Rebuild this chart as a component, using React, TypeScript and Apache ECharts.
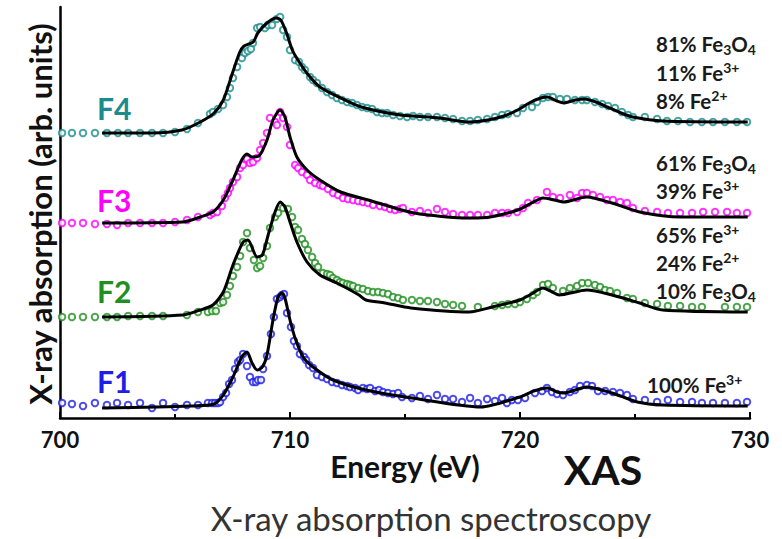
import React, { useEffect, useRef } from "react";
import * as echarts from "echarts";

// Energy (eV) ticks
const xTicks = [700, 710, 720, 730];

// ---- F4 (teal) ----
const f4Obs: number[][] = [
  [700.09, 285], [700.52, 285], [701.0, 285], [701.52, 285], [702.04, 285], [702.52, 285], [702.96, 285],
  [703.48, 285], [704.0, 285], [704.48, 285], [705.0, 286], [705.52, 289], [706.0, 295], [706.52, 304],
  [706.65, 306], [706.87, 309], [707.09, 313], [707.26, 321], [707.39, 330], [707.52, 340], [707.7, 351],
  [707.91, 360], [708.04, 365], [708.17, 367], [708.3, 369], [708.39, 375], [708.57, 390], [708.7, 391],
  [708.91, 390], [709.04, 393], [709.22, 393], [709.43, 399], [709.57, 401], [709.7, 388], [709.87, 381],
  [710.0, 368], [710.22, 358], [710.39, 356], [710.52, 351], [710.65, 348], [710.87, 341], [711.0, 338],
  [711.17, 335], [711.39, 330], [711.61, 326], [711.83, 323], [712.04, 320], [712.26, 318], [712.48, 316],
  [712.7, 315], [712.91, 313], [713.13, 311], [713.35, 310], [713.57, 309], [713.78, 306], [714.0, 305],
  [714.22, 305], [714.48, 303], [714.78, 302], [715.09, 301], [715.35, 302], [715.65, 301], [716.0, 301],
  [716.39, 301], [716.74, 300], [717.09, 299], [717.48, 297], [717.83, 297], [718.17, 298], [718.57, 299],
  [718.91, 301], [719.22, 303], [719.48, 304], [719.87, 305], [720.13, 310], [720.52, 311], [720.74, 316],
  [721.0, 320], [721.22, 321], [721.43, 321], [721.74, 319], [722.04, 319], [722.39, 318], [722.7, 318],
  [722.91, 318], [723.26, 316], [723.57, 314], [723.83, 312], [724.13, 310], [724.43, 306], [724.7, 303],
  [724.91, 301], [725.43, 301], [725.96, 299], [726.39, 297], [726.87, 297], [727.39, 296], [727.91, 296],
  [728.39, 296], [728.91, 296], [729.43, 296], [729.87, 296],
];
const f4Fit: number[][] = [
  [701.83, 285], [704.0, 285], [705.3, 288], [706.1, 296], [706.7, 305], [707.1, 318], [707.5, 345],
  [707.8, 365], [708.0, 372], [708.4, 376], [708.6, 385], [709.0, 395], [709.4, 400], [709.6, 398],
  [709.85, 385], [710.1, 368], [710.4, 356], [710.8, 343], [711.3, 331], [712.2, 320], [713.1, 311],
  [714.8, 303], [716.5, 300], [717.8, 296], [718.6, 298], [719.3, 302], [719.9, 308], [720.4, 315],
  [720.9, 320], [721.2, 321], [721.6, 317], [721.9, 315], [722.4, 318], [722.8, 319], [723.3, 316],
  [723.8, 311], [724.4, 305], [724.9, 301], [726.2, 297], [729.9, 296],
];

// ---- F3 (magenta) ----
const f3Obs: number[][] = [
  [700.09, 195], [700.52, 195], [701.0, 195], [701.52, 194], [702.04, 194], [702.48, 193], [702.96, 195],
  [703.48, 195], [704.0, 195], [704.48, 195], [705.0, 196], [705.52, 198], [706.0, 201], [706.52, 203],
  [706.65, 205], [706.83, 206], [707.04, 212], [707.17, 220], [707.3, 225], [707.39, 230], [707.52, 236],
  [707.7, 241], [707.83, 250], [707.96, 253], [708.13, 259], [708.26, 255], [708.39, 256], [708.57, 260],
  [708.7, 268], [708.83, 275], [709.0, 285], [709.13, 300], [709.35, 296], [709.43, 293], [709.57, 306],
  [709.7, 300], [709.87, 291], [710.0, 273], [710.22, 253], [710.35, 250], [710.52, 246], [710.74, 243],
  [710.87, 238], [711.09, 235], [711.3, 233], [711.43, 232], [711.65, 229], [711.87, 225], [712.09, 223],
  [712.3, 220], [712.52, 219], [712.74, 218], [712.96, 217], [713.17, 216], [713.39, 215], [713.61, 213],
  [713.91, 212], [714.13, 211], [714.35, 209], [714.57, 208], [714.78, 209], [714.91, 210], [715.3, 206],
  [715.65, 207], [716.0, 205], [716.39, 209], [716.74, 206], [717.09, 204], [717.48, 203], [717.83, 203],
  [718.17, 203], [718.57, 203], [718.91, 205], [719.22, 205], [719.48, 205], [719.87, 206], [720.13, 210],
  [720.35, 215], [720.74, 218], [721.17, 226], [721.43, 221], [721.74, 220], [722.17, 223], [722.48, 220],
  [722.7, 225], [722.91, 225], [723.17, 223], [723.48, 221], [723.78, 218], [724.04, 218], [724.35, 216],
  [724.65, 215], [724.91, 210], [725.43, 207], [725.96, 206], [726.43, 205], [726.96, 205], [727.48, 205],
  [727.96, 206], [728.48, 206], [729.0, 206], [729.43, 205], [729.87, 205],
];
const f3Fit: number[][] = [
  [701.83, 195], [705.35, 196], [706.1, 201], [706.65, 206], [707.1, 218], [707.52, 238], [707.9, 258],
  [708.13, 264], [708.35, 261], [708.65, 262], [709.0, 278], [709.26, 298], [709.57, 308], [709.78, 301],
  [710.0, 281], [710.3, 261], [710.74, 248], [711.3, 238], [712.2, 226], [713.4, 218], [715.4, 205],
  [717.8, 200], [718.7, 201], [719.9, 208], [720.5, 215], [721.0, 220], [721.5, 218], [721.9, 216],
  [722.9, 221], [724.0, 215], [725.2, 206], [727.0, 201], [729.9, 201],
];

// ---- F2 (green) ----
const f2Obs: number[][] = [
  [700.09, 101], [700.52, 101], [701.0, 101], [701.52, 101], [702.04, 101], [702.48, 101], [702.96, 102],
  [703.48, 102], [704.0, 102], [704.48, 102], [705.52, 103], [706.0, 106], [706.43, 106], [706.61, 107],
  [706.78, 107], [706.96, 115], [707.09, 116], [707.26, 123], [707.39, 132], [707.52, 142], [707.7, 151],
  [707.83, 162], [707.96, 176], [708.13, 185], [708.26, 170], [708.43, 158], [708.57, 150], [708.7, 152],
  [708.83, 160], [709.0, 172], [709.13, 190], [709.35, 201], [709.48, 205], [709.7, 210], [709.91, 209],
  [710.09, 201], [710.22, 191], [710.35, 188], [710.52, 179], [710.65, 174], [710.78, 168], [710.96, 161],
  [711.09, 155], [711.22, 151], [711.43, 145], [711.61, 144], [711.74, 143], [711.87, 140], [712.04, 138],
  [712.17, 136], [712.3, 135], [712.48, 134], [712.61, 133], [712.74, 132], [712.96, 130], [713.17, 129],
  [713.39, 127], [713.61, 126], [713.83, 126], [714.04, 125], [714.26, 124], [714.48, 121], [714.7, 120],
  [714.91, 118], [715.3, 118], [715.65, 117], [716.0, 117], [716.39, 116], [716.74, 114], [717.09, 113],
  [717.48, 112], [718.17, 111], [718.91, 112], [719.22, 113], [719.48, 114], [719.78, 114], [720.0, 116],
  [720.3, 119], [720.57, 123], [720.74, 126], [721.0, 133], [721.22, 134], [721.43, 130], [721.87, 127],
  [722.17, 130], [722.48, 132], [722.7, 135], [722.96, 135], [723.26, 133], [723.48, 131], [723.7, 128],
  [723.91, 127], [724.22, 125], [724.65, 120], [724.91, 119], [725.43, 115], [725.96, 114], [726.43, 112],
  [726.96, 112], [727.48, 111], [727.91, 111], [728.91, 111], [729.43, 111], [729.87, 111],
];
const f2Fit: number[][] = [
  [701.83, 101], [705.35, 103], [706.1, 108], [706.65, 113], [707.1, 126], [707.52, 153], [707.96, 176],
  [708.17, 178], [708.57, 161], [708.8, 163], [709.05, 183], [709.35, 206], [709.57, 216], [709.78, 211],
  [710.0, 196], [710.3, 176], [710.74, 156], [711.3, 143], [712.04, 135], [713.0, 123], [713.3, 118],
  [714.13, 115], [715.26, 110], [717.8, 106], [718.8, 111], [720.0, 118], [720.5, 124], [721.0, 130],
  [721.4, 126], [721.7, 123], [722.9, 128], [724.0, 123], [725.2, 115], [726.2, 108], [729.9, 106],
];

// ---- F1 (blue) ----
const f1Obs: number[][] = [
  [700.09, 15], [700.52, 14], [701.0, 12], [701.52, 15], [702.04, 13], [702.48, 15], [702.96, 13],
  [703.48, 15], [704.0, 10], [704.48, 15], [705.0, 11], [705.52, 13], [706.0, 13], [706.43, 15],
  [706.61, 15], [706.74, 15], [706.87, 15], [706.96, 16], [707.09, 21], [707.22, 25], [707.35, 34],
  [707.48, 38], [707.61, 49], [707.74, 56], [707.83, 58], [707.96, 64], [708.13, 52], [708.26, 41],
  [708.39, 36], [708.52, 36], [708.61, 38], [708.74, 38], [708.83, 49], [709.0, 62], [709.17, 84],
  [709.3, 101], [709.43, 119], [709.57, 121], [709.65, 123], [709.74, 124], [709.87, 105], [710.04, 91],
  [710.17, 77], [710.3, 72], [710.43, 64], [710.61, 61], [710.7, 58], [710.83, 53], [711.0, 50],
  [711.17, 43], [711.39, 41], [711.61, 39], [711.83, 36], [712.04, 35], [712.26, 33], [712.48, 32],
  [712.61, 31], [712.83, 30], [712.96, 28], [713.17, 30], [713.35, 29], [713.48, 30], [713.7, 27],
  [713.87, 28], [714.04, 26], [714.26, 25], [714.48, 24], [714.7, 25], [714.87, 21], [715.3, 20],
  [715.65, 22], [716.0, 19], [716.39, 23], [716.74, 19], [717.09, 19], [717.48, 16], [717.83, 20],
  [718.17, 15], [718.57, 19], [718.91, 17], [719.22, 20], [719.43, 15], [719.65, 18], [719.91, 18],
  [720.22, 20], [720.65, 25], [720.96, 27], [721.17, 30], [721.39, 26], [721.61, 24], [721.87, 23],
  [722.17, 26], [722.39, 28], [722.61, 32], [722.91, 33], [723.13, 32], [723.39, 27], [723.7, 27],
  [724.04, 26], [724.35, 25], [724.65, 23], [724.91, 19], [725.43, 18], [725.96, 16], [726.43, 18],
  [726.96, 16], [727.48, 16], [727.91, 15], [728.39, 15], [728.91, 15], [729.43, 15], [729.87, 16],
];
const f1Fit: number[][] = [
  [701.83, 10], [705.65, 12], [706.7, 14], [707.1, 23], [707.52, 41], [707.9, 61], [708.13, 66],
  [708.35, 55], [708.57, 48], [708.8, 51], [709.0, 63], [709.26, 98], [709.48, 121], [709.65, 125],
  [709.78, 120], [710.0, 98], [710.22, 80], [710.57, 61], [711.0, 51], [711.87, 38], [713.3, 28],
  [715.3, 20], [718.3, 11], [720.0, 21], [720.6, 27], [721.2, 30], [721.6, 26], [721.9, 25],
  [722.9, 31], [724.0, 25], [725.1, 16], [726.2, 13], [729.9, 12],
];

const sampleNames = ["F4", "F3", "F2", "F1"];
const sampleColors = ["#1A8C8C", "#FF00FF", "#1F8F1F", "#1E1EE6"];
const compositions = [
  ["81% Fe{sub|3}O{sub|4}", "11% Fe{sup|3+}", "8% Fe{sup|2+}"],
  ["61% Fe{sub|3}O{sub|4}", "39% Fe{sup|3+}"],
  ["65% Fe{sup|3+}", "24% Fe{sup|2+}", "10% Fe{sub|3}O{sub|4}"],
  ["100% Fe{sup|3+}"],
];

const FONT = "Lato, 'Open Sans', sans-serif";

export default function App() {
  const ref = useRef<HTMLDivElement>(null);
  useEffect(() => {
    if (!ref.current) return;
    const chart = echarts.init(ref.current, undefined, { renderer: "svg" });
    const obs = [f4Obs, f3Obs, f2Obs, f1Obs];
    const fits = [f4Fit, f3Fit, f2Fit, f1Fit];
    const series: any[] = [];
    obs.forEach((d, i) => {
      series.push({
        name: sampleNames[i] + " data",
        type: "scatter",
        data: d,
        symbol: "emptyCircle",
        symbolSize: 6.5,
        itemStyle: { color: sampleColors[i], borderColor: sampleColors[i], borderWidth: 1.1 },
        z: 2,
      });
    });
    fits.forEach((d, i) => {
      series.push({
        name: sampleNames[i] + " fit",
        type: "line",
        data: d,
        showSymbol: false,
        smooth: 0.25,
        lineStyle: { color: "#000", width: 3 },
        z: 3,
      });
    });

    const labelYs = [108, 200, 291, 381];
    const compY = [[44, 73, 101], [163, 191], [235, 263, 291], [385]];
    const compX = [656, 656, 656, 647];
    const baseText = { fontSize: 20.5, fontWeight: "bold", fontFamily: FONT, fill: "#1a1a1a" };
    const rich = {
      n: { ...baseText, lineHeight: 25, verticalAlign: "middle" },
      sub: { fontSize: 14, fontWeight: "bold", fontFamily: FONT, fill: "#1a1a1a", verticalAlign: "bottom", lineHeight: 12 },
      sup: { fontSize: 14, fontWeight: "bold", fontFamily: FONT, fill: "#1a1a1a", verticalAlign: "top", lineHeight: 12 },
    };
    const graphics: any[] = [];
    sampleNames.forEach((n, i) => {
      graphics.push({
        type: "text",
        left: 97,
        top: labelYs[i] - 15,
        style: { text: n, fontSize: 30, fontWeight: "bold", fontFamily: FONT, fill: sampleColors[i] },
      });
      compositions[i].forEach((t, j) => {
        const parts = t.split("{");
        const txt = "{n|" + parts[0] + "}{" + parts.slice(1).join("{").replace(/\}([^{}]+)\{/g, "}{n|$1}{");
        graphics.push({
          type: "text",
          x: compX[i],
          y: compY[i][j],
          style: {
            text: txt,
            ...baseText,
            lineHeight: 25,
            align: "left",
            verticalAlign: "middle",
            textAlign: "left",
            textVerticalAlign: "middle",
            rich,
          },
        });
      });
    });
    const centered = { align: "center", verticalAlign: "middle", textAlign: "center", textVerticalAlign: "middle" };
    graphics.push({
      type: "text",
      x: 40,
      y: 214,
      rotation: Math.PI / 2,
      style: {
        text: "X-ray absorption (arb. units)",
        fontSize: 31,
        fontWeight: "bold",
        fontFamily: FONT,
        fill: "#111",
        ...centered,
      },
    });
    graphics.push({
      type: "text",
      x: 405,
      y: 466,
      style: { text: "Energy (eV)", fontSize: 30, fontWeight: "bold", fontFamily: FONT, fill: "#111", ...centered },
    });
    graphics.push({
      type: "text",
      x: 603,
      y: 469,
      style: { text: "XAS", fontSize: 41, fontWeight: "bold", fontFamily: FONT, fill: "#111", ...centered },
    });
    graphics.push({
      type: "text",
      x: 431,
      y: 518,
      style: { text: "X-ray absorption spectroscopy", fontSize: 33, fontFamily: FONT, fill: "#333", ...centered },
    });

    chart.setOption({
      animation: false,
      backgroundColor: "#fff",
      grid: { left: 60, right: 32, top: 7, bottom: 121, containLabel: false },
      xAxis: {
        type: "value",
        min: xTicks[0],
        max: xTicks[xTicks.length - 1],
        interval: 10,
        axisLine: { show: true, onZero: false, lineStyle: { color: "#000", width: 2.5 } },
        axisTick: { show: true, inside: true, length: 6, lineStyle: { color: "#000", width: 2 } },
        minorTick: { show: true, splitNumber: 2, length: 4, lineStyle: { color: "#000", width: 2 } },
        splitLine: { show: false },
        axisLabel: {
          fontSize: 22,
          fontWeight: "bold",
          fontFamily: FONT,
          color: "#111",
          margin: 10,
        },
      },
      yAxis: {
        type: "value",
        min: 0,
        max: 411,
        axisLine: { show: true, onZero: false, lineStyle: { color: "#000", width: 2.5 } },
        axisTick: { show: false },
        axisLabel: { show: false },
        splitLine: { show: false },
      },
      series,
      graphic: graphics,
    });
    return () => chart.dispose();
  }, []);
  return <div ref={ref} style={{ width: 782, height: 539, position: "absolute", left: 0, top: 0 }} />;
}
